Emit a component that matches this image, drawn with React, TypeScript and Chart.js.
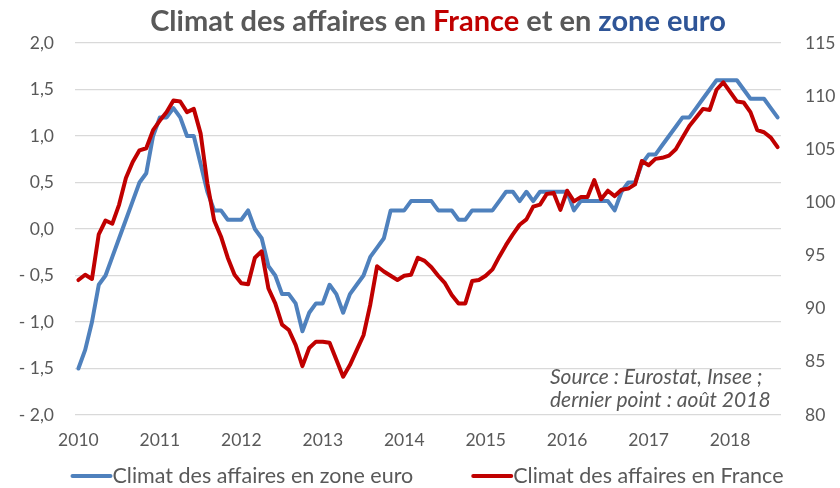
import React, { useEffect, useRef } from "react";
import { Chart, registerables } from "chart.js";
Chart.register(...registerables);

const years = ["2010", "2011", "2012", "2013", "2014", "2015", "2016", "2017", "2018"];
const lastYearMonths = 8; // dernier point : août 2018

const euroLabel = "Climat des affaires en zone euro";
const franceLabel = "Climat des affaires en France";

const euroValues = [
  -1.5, -1.3, -1.0, -0.6, -0.5, -0.3, -0.1, 0.1, 0.3, 0.5, 0.6, 1.0,
  1.2, 1.2, 1.3, 1.2, 1.0, 1.0, 0.7, 0.4, 0.2, 0.2, 0.1, 0.1,
  0.1, 0.2, 0.0, -0.1, -0.4, -0.5, -0.7, -0.7, -0.8, -1.1, -0.9, -0.8,
  -0.8, -0.6, -0.7, -0.9, -0.7, -0.6, -0.5, -0.3, -0.2, -0.1, 0.2, 0.2,
  0.2, 0.3, 0.3, 0.3, 0.3, 0.2, 0.2, 0.2, 0.1, 0.1, 0.2, 0.2,
  0.2, 0.2, 0.3, 0.4, 0.4, 0.3, 0.4, 0.3, 0.4, 0.4, 0.4, 0.4,
  0.4, 0.2, 0.3, 0.3, 0.3, 0.3, 0.3, 0.2, 0.4, 0.5, 0.5, 0.7,
  0.8, 0.8, 0.9, 1.0, 1.1, 1.2, 1.2, 1.3, 1.4, 1.5, 1.6, 1.6,
  1.6, 1.6, 1.5, 1.4, 1.4, 1.4, 1.3, 1.2,
];

const franceValues = [
  92.7, 93.2, 92.8, 97.0, 98.3, 98.0, 99.8, 102.3, 103.8, 104.9, 105.1, 106.8,
  107.7, 108.5, 109.6, 109.5, 108.5, 108.8, 106.5, 101.8, 98.3, 96.8, 94.8, 93.2,
  92.4, 92.3, 94.8, 95.4, 91.9, 90.5, 88.5, 88.0, 86.6, 84.6, 86.3, 86.9,
  86.9, 86.8, 85.2, 83.6, 84.7, 86.1, 87.5, 90.4, 94.0, 93.5, 93.1, 92.7,
  93.1, 93.2, 94.8, 94.5, 93.9, 93.1, 92.4, 91.3, 90.5, 90.5, 92.6, 92.7,
  93.1, 93.7, 94.9, 96.0, 97.0, 97.9, 98.4, 99.6, 99.8, 100.8, 100.9, 99.3,
  101.1, 100.1, 100.5, 100.5, 102.1, 100.3, 101.1, 100.6, 101.2, 101.3, 101.7, 103.9,
  103.5, 104.1, 104.2, 104.4, 105.0, 106.1, 107.2, 108.0, 108.8, 108.7, 110.6, 111.3,
  110.4, 109.5, 109.4, 108.5, 106.8, 106.6, 106.1, 105.2,
];

const months: string[] = [];
years.forEach((y, i) => {
  const n = i === years.length - 1 ? lastYearMonths : 12;
  for (let m = 1; m <= n; m++) months.push(`${y}-${String(m).padStart(2, "0")}`);
});

const titleParts = [
  { text: "Climat des affaires en ", color: "#595959" },
  { text: "France", color: "#C00000" },
  { text: " et en ", color: "#595959" },
  { text: "zone euro", color: "#2F5597" },
];
const noteLines = ["Source : Eurostat, Insee ;", "dernier point : août 2018"];

const BLUE = "#4F81BD";
const RED = "#C00000";
const GREY = "#595959";
const FONT = "Lato";

const fmtLeft = (v: number) => {
  const a = Math.abs(v).toFixed(1).replace(".", ",");
  return v < -1e-9 ? "- " + a : a;
};

const decor = {
  id: "decor",
  afterDraw(chart: any) {
    const ctx = chart.ctx;
    const area = chart.chartArea;
    ctx.save();
    // Title
    ctx.font = `bold 29px ${FONT}`;
    ctx.textBaseline = "middle";
    const total = titleParts.reduce((s, p) => s + ctx.measureText(p.text).width, 0);
    let x = 438 - total / 2;
    titleParts.forEach((p) => {
      ctx.fillStyle = p.color;
      ctx.textAlign = "left";
      ctx.fillText(p.text, x, 22);
      x += ctx.measureText(p.text).width;
    });
    // Note
    ctx.font = `italic 21px ${FONT}`;
    ctx.fillStyle = GREY;
    ctx.textAlign = "left";
    ctx.fillText(noteLines[0], 550, area.bottom - 38);
    ctx.fillText(noteLines[1], 550, area.bottom - 15);
    // Legend
    ctx.font = `21.5px ${FONT}`;
    const items = chart.data.datasets.map((d: any) => ({ label: d.label, color: d.borderColor }));
    const sample = 42;
    const gap = 58;
    const widths = items.map((it: any) => sample + ctx.measureText(it.label).width);
    const tw = widths.reduce((a: number, b: number) => a + b, 0) + gap * (items.length - 1);
    let lx = 427 - tw / 2;
    const ly = 476;
    items.forEach((it: any, i: number) => {
      ctx.strokeStyle = it.color;
      ctx.lineWidth = 4;
      ctx.lineCap = "round";
      ctx.beginPath();
      ctx.moveTo(lx + 2, ly);
      ctx.lineTo(lx + sample - 2, ly);
      ctx.stroke();
      ctx.fillStyle = GREY;
      ctx.fillText(it.label, lx + sample, ly);
      lx += widths[i] + gap;
    });
    ctx.restore();
  },
};

export default function App() {
  const ref = useRef<HTMLCanvasElement>(null);
  useEffect(() => {
    document.body.style.margin = "0";
    const chart = new Chart(ref.current as HTMLCanvasElement, {
      type: "line",
      data: {
        labels: months,
        datasets: [
          {
            label: euroLabel,
            data: euroValues,
            borderColor: BLUE,
            backgroundColor: BLUE,
            borderWidth: 4,
            pointRadius: 0,
            tension: 0,
            yAxisID: "y",
            order: 2,
            borderJoinStyle: "round",
            borderCapStyle: "round",
          },
          {
            label: franceLabel,
            data: franceValues,
            borderColor: RED,
            backgroundColor: RED,
            borderWidth: 4,
            pointRadius: 0,
            tension: 0,
            yAxisID: "y1",
            order: 1,
            borderJoinStyle: "round",
            borderCapStyle: "round",
          },
        ],
      },
      options: {
        responsive: false,
        animation: false,
        devicePixelRatio: 1,
        layout: { padding: { top: 43, bottom: 33, left: 0, right: 0 } },
        plugins: { legend: { display: false }, title: { display: false }, tooltip: { enabled: false } },
        scales: {
          x: {
            type: "category",
            offset: true,
            grid: { display: false, drawTicks: false },
            border: { display: false },
            ticks: {
              autoSkip: false,
              maxRotation: 0,
              minRotation: 0,
              padding: 15,
              color: GREY,
              font: { family: FONT, size: 17.5 },
              callback: (_v: any, i: number) => (months[i].endsWith("-01") ? months[i].slice(0, 4) : ""),
            },
            afterFit: (s: any) => {
              s.height = 40;
            },
          },
          y: {
            position: "left",
            min: -2,
            max: 2,
            grid: { color: "#D9D9D9", lineWidth: 1.3, drawTicks: false },
            border: { display: false },
            ticks: {
              stepSize: 0.5,
              padding: 21,
              color: GREY,
              font: { family: FONT, size: 17.5 },
              callback: (v: any) => fmtLeft(Number(v)),
            },
            afterFit: (s: any) => {
              s.width = 75;
            },
          },
          y1: {
            position: "right",
            min: 80,
            max: 115,
            grid: { display: false, drawTicks: false },
            border: { display: false },
            ticks: {
              stepSize: 5,
              padding: 24,
              color: GREY,
              font: { family: FONT, size: 17.5 },
            },
            afterFit: (s: any) => {
              s.width = 59;
            },
          },
        },
      },
      plugins: [decor],
    } as any);
    return () => chart.destroy();
  }, []);
  return (
    <div style={{ width: 840, height: 488 }}>
      <canvas ref={ref} width={840} height={488} />
    </div>
  );
}
